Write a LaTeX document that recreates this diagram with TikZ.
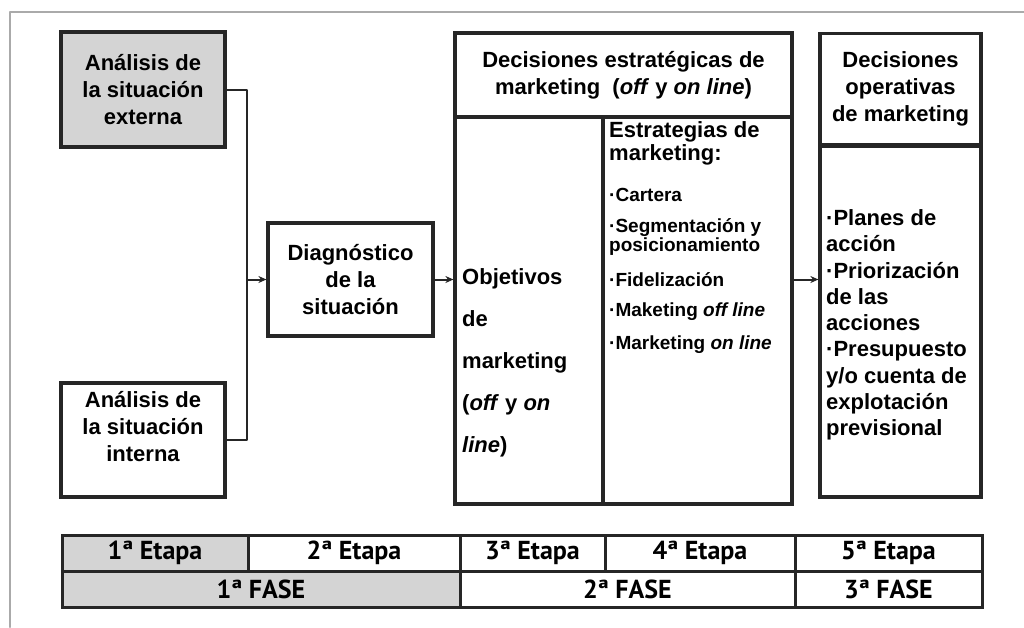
\documentclass[tikz,border=0pt]{standalone}
\usepackage{fontspec}
\usetikzlibrary{arrows.meta}
\setmainfont{Liberation Sans}
\newfontfamily\tablefont{PT Sans}
\definecolor{boxgray}{RGB}{212,212,212}
\definecolor{framegray}{RGB}{170,170,170}
\begin{document}
\begin{tikzpicture}[>={Stealth[length=8pt,width=7pt]},line join=round,line cap=round,x=1pt,y=-1pt,
		box/.style={draw=black!85,line width=3.2pt,line join=miter,rectangle,inner sep=0pt},
		txt/.style={font=\bfseries\fontsize{22}{27}\selectfont,align=center,inner sep=0pt},
		lst/.style={font=\bfseries\fontsize{22}{26.3}\selectfont,align=left,inner sep=0pt,anchor=west},
		cell/.style={draw=black!85,line width=3pt,line join=miter,minimum height=36pt,inner sep=0pt,font=\tablefont\bfseries\fontsize{26}{26}\selectfont},
		link/.style={line width=2pt,black!85}]
			\useasboundingbox (0,0) rectangle (1024,627);
			\draw[framegray,line width=2pt] (10,627)--(10,12)--(1024,12);
			\node[box,fill=boxgray,minimum width=164pt,minimum height=115pt,txt] (ext) at (143,89.5) {Análisis de\\la situación\\externa};
			\node[box,minimum width=164pt,minimum height=114pt,txt] (int) at (143,440) {Análisis de\\la situación\\interna\\\mbox{}};
			\node[box,minimum width=165pt,minimum height=113pt,txt] (diag) at (350.5,279.5) {Diagnóstico\\de la\\situación};
			\node[box,minimum width=337pt,minimum height=84pt,txt] (estrhd) at (623.5,75) {Decisiones estratégicas de\\marketing\ \ (\textit{off} y \textit{on line})};
			\node[box,minimum width=148pt,minimum height=387pt] (obj) at (529,310.5) {};
			\node[box,minimum width=189pt,minimum height=387pt] (strat) at (697.5,310.5) {};
			\node[lst,font=\bfseries\fontsize{22}{42}\selectfont] (objtxt) at (462,363) {Objetivos\\de\\marketing\\(\textit{off} y \textit{on}\\\textit{line})};
			\node[lst,font=\bfseries\fontsize{22}{23}\selectfont] (strathd) at (609,143.5) {Estrategias de\\marketing:};
			\node[lst,font=\bfseries\fontsize{19}{19}\selectfont] (stratlst) at (609,271) {·Cartera\\[12pt]·Segmentación y\\posicionamiento\\[16pt]·Fidelización\\[11pt]·Maketing \textit{off line}\\[14pt]·Marketing \textit{on line}};
			\node[box,minimum width=161pt,minimum height=111pt,txt] (operhd) at (900.5,89) {Decisiones\\operativas\\de marketing};
			\node[box,minimum width=161pt,minimum height=351pt] (oper) at (900.5,321.5) {};
			\node[lst] (operlst) at (826,325) {·Planes de\\acción\\·Priorización\\de las\\acciones\\·Presupuesto\\y/o cuenta de\\explotación\\previsional};
			\coordinate (join) at (247,279.5);
			\draw[link] (ext.east)-|(join)|-(int.east);
			\draw[link,->] (join)--(diag.west);
			\draw[link,->] (diag.east)--(diag.east -| obj.west);
			\draw[link,->] (diag.east -| strat.east)--(diag.east -| oper.west);
			\node[cell,fill=boxgray,minimum width=186pt] (et1) at (155,553) {1ª Etapa};
			\node[cell,minimum width=212pt] (et2) at (354,553) {2ª Etapa};
			\node[cell,minimum width=145pt] (et3) at (532.5,553) {3ª Etapa};
			\node[cell,minimum width=190pt] (et4) at (700,553) {4ª Etapa};
			\node[cell,minimum width=187pt] (et5) at (888.5,553) {5ª Etapa};
			\node[cell,fill=boxgray,minimum width=398pt] (fa1) at (261,589) {1ª FASE};
			\node[cell,minimum width=335pt] (fa2) at (627.5,589) {2ª FASE};
			\node[cell,minimum width=187pt] (fa3) at (888.5,589) {3ª FASE};
	\end{tikzpicture}
\end{document}
